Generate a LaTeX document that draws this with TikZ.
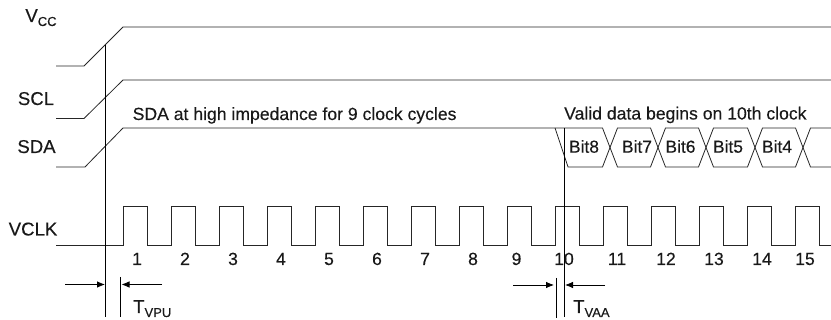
\documentclass[tikz,border=0pt]{standalone}
\usepackage{fontspec}
\setmainfont[FakeBold=0.25]{Liberation Sans}
\usetikzlibrary{arrows.meta}
\tikzset{
  sig/.style={draw=black!85,line width=0.8pt,line join=miter},
  guide/.style={draw=black,line width=0.8pt},
  meas/.style={draw=black,line width=0.8pt,-{Latex[length=8pt,width=6.5pt]}},
  lbl/.style={inner sep=0pt,anchor=base,font=\fontsize{18.6pt}{20pt}\selectfont,text=black!90},
  num/.style={inner sep=0pt,anchor=base,font=\fontsize{17.6pt}{20pt}\selectfont,text=black!90},
  bit/.style={inner sep=0pt,anchor=base,font=\fontsize{17.4pt}{20pt}\selectfont,text=black!90},
  note/.style={inner sep=0pt,anchor=base west,font=\fontsize{17.6pt}{20pt}\selectfont,text=black!90},
}
\newcommand{\lowsub}[2]{#1\raisebox{-4pt}{\fontsize{13pt}{14pt}\selectfont #2}}
\begin{document}
\begin{tikzpicture}[x=1pt,y=-1pt]
\useasboundingbox (0,0) rectangle (831,320);
% labels
\node[lbl] (vcc) at (41,22) {\lowsub{V}{CC}};
\node[lbl] (scl) at (36,105) {SCL};
\node[lbl] (sda) at (36.5,153) {SDA};
\node[lbl] (vclk) at (33,235.5) {VCLK};
% power-up
\draw[sig] (56,66) -- (84,66) -- (123,27) -- (831,27);
\draw[sig] (56,118.5) -- (84,118.5) -- (123,80) -- (831,80);
\draw[sig] (56,167) -- (85,167) -- (123,128) -- (602.5,128) -- (617.5,167) -- (650.5,167) -- (665.5,128) -- (698.5,128) -- (713.5,167) -- (747.5,167) -- (762.5,128) -- (795.5,128) -- (810.5,167) -- (831,167);
% bit stream
\draw[sig] (555,128) -- (568,167) -- (602.5,167) -- (617.5,128) -- (650.5,128) -- (665.5,167) -- (698.5,167) -- (713.5,128) -- (747.5,128) -- (762.5,167) -- (795.5,167) -- (810.5,128) -- (831,128);
% clock
\draw[sig] (56,245.5)
  \foreach \k in {0,...,14} { -- ({123+48*\k},245.5) -- ({123+48*\k},206.5) -- ({147+48*\k},206.5) -- ({147+48*\k},245.5) }
  -- (831,245.5);
% guides
\coordinate (g1t) at (105,45); \coordinate (g1b) at (105,317);
\coordinate (g2t) at (120.5,277); \coordinate (g2b) at (120.5,317);
\coordinate (g3t) at (564.5,128); \coordinate (g3b) at (564.5,317);
\coordinate (g4t) at (556,278); \coordinate (g4b) at (556,318);
\draw[guide] (g1t) -- (g1b);
\draw[guide] (g2t) -- (g2b);
\draw[guide] (g3t) -- (g3b);
\draw[guide] (g4t) -- (g4b);
\coordinate (a1) at (65,284.5); \coordinate (a1e) at (105,284.5);
\coordinate (a2) at (162,284.5); \coordinate (a2e) at (121.5,284.5);
\coordinate (a3) at (513,285); \coordinate (a3e) at (554,285);
\coordinate (a4) at (605,285); \coordinate (a4e) at (565,285);
\draw[meas] (a1) -- (a1e);
\draw[meas] (a2) -- (a2e);
\draw[meas] (a3) -- (a3e);
\draw[meas] (a4) -- (a4e);
% clock numbers
\foreach \n/\x in {1/137,2/185,3/233,4/281,5/329,6/377,7/425,8/473,9/516.5,10/564,11/617,12/666,13/714,14/762,15/805}
  \node[num] (n\n) at (\x,265) {\n};
% notes
\node[note] (hi) at (132.5,120) {SDA at high impedance for 9 clock cycles};
\node[note] (valid) at (564,119.5) {Valid data begins on 10th clock};
\foreach \n/\x in {8/584,7/637,6/680.5,5/728,4/777}
  \node[bit] (b\n) at (\x,152.7) {Bit\n};
\node[lbl,anchor=base west] (tvpu) at (133,313) {\lowsub{T}{VPU}};
\node[lbl,anchor=base west] (tvaa) at (573,313) {\lowsub{T}{VAA}};
\end{tikzpicture}
\end{document}
